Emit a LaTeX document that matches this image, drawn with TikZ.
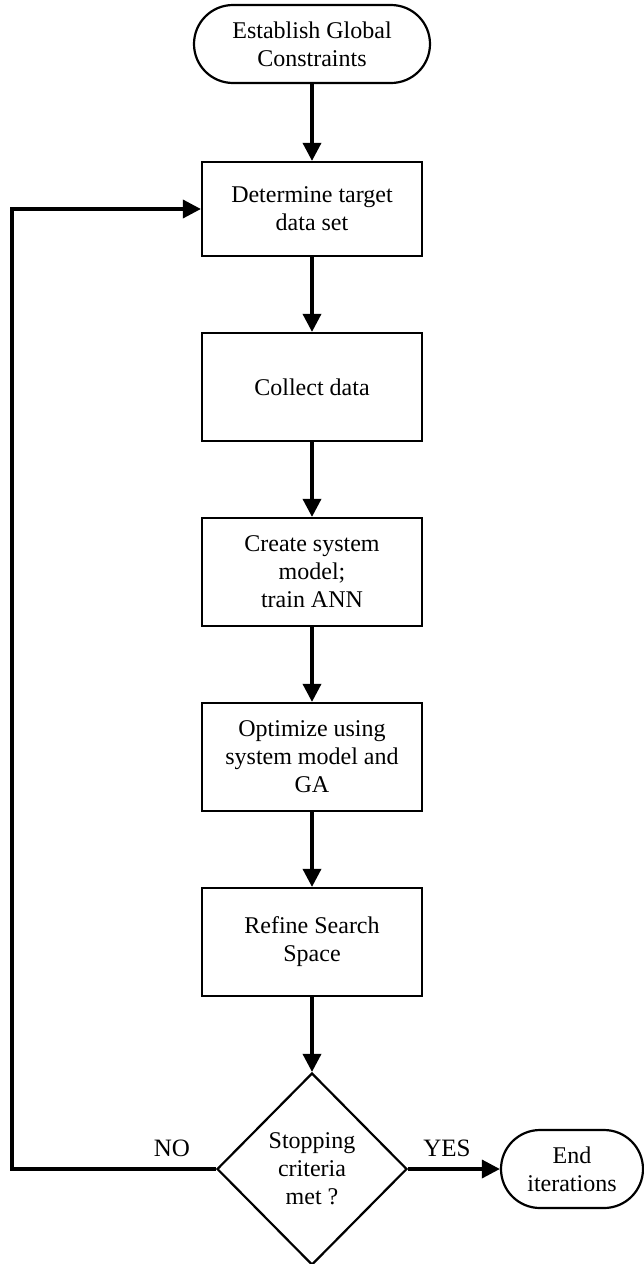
\documentclass[tikz,border=0pt]{standalone}
\usepackage{fontspec}
\setmainfont{Liberation Serif}
\usetikzlibrary{arrows.meta,shapes.geometric}

\tikzset{
  x=1pt, y=1pt,
  txt/.style={font=\fontsize{24pt}{28pt}\selectfont, align=center, inner sep=0pt},
  stepbox/.style={txt, draw, line width=2.2pt, rectangle, minimum width=220pt, minimum height=108pt},
  terminal/.style={txt, draw, line width=2.2pt, rectangle, rounded corners=39pt, minimum height=78pt},
  decision/.style={txt, draw, line width=2.2pt, diamond, minimum width=190pt, minimum height=192pt},
  conn/.style={line width=3.5pt, line join=miter, -{Triangle[length=18pt,width=18pt]}},
  branch/.style={font=\fontsize{25pt}{28pt}\selectfont, inner sep=0pt}
}

\begin{document}
\begin{tikzpicture}
  \useasboundingbox (0,0) rectangle (644,-1264);

  % flow nodes
  \node[terminal, minimum width=236pt] (start) at (312,-44) {Establish Global\\Constraints};
  \node[stepbox, minimum height=94pt] (target) at (312,-209) {Determine target\\data set};
  \node[stepbox] (collect) at (312,-387) {Collect data};
  \node[stepbox] (model) at (312,-572) {Create system\\model;\\train ANN};
  \node[stepbox] (optim) at (312,-757) {Optimize using\\system model and\\GA};
  \node[stepbox] (refine) at (312,-942) {Refine Search\\Space};
  \node[decision] (stop) at (312,-1169) {Stopping\\criteria\\met ?};
  \node[terminal, minimum width=142pt] (finish) at (572,-1169) {End\\iterations};

  % connectors
  \draw[conn] (start) -- (target);
  \draw[conn] (target) -- (collect);
  \draw[conn] (collect) -- (model);
  \draw[conn] (model) -- (optim);
  \draw[conn] (optim) -- (refine);
  \draw[conn] (refine) -- (stop);
  \draw[conn] (stop) -- (finish);

  % loop back to the target data set
  \coordinate (loopcorner) at (12,-1169);
  \draw[conn] (stop.west) -- (loopcorner) |- (target.west);

  % branch labels
  \node[branch] (no) at (172,-1148) {NO};
  \node[branch] (yes) at (447,-1148) {YES};
\end{tikzpicture}
\end{document}
